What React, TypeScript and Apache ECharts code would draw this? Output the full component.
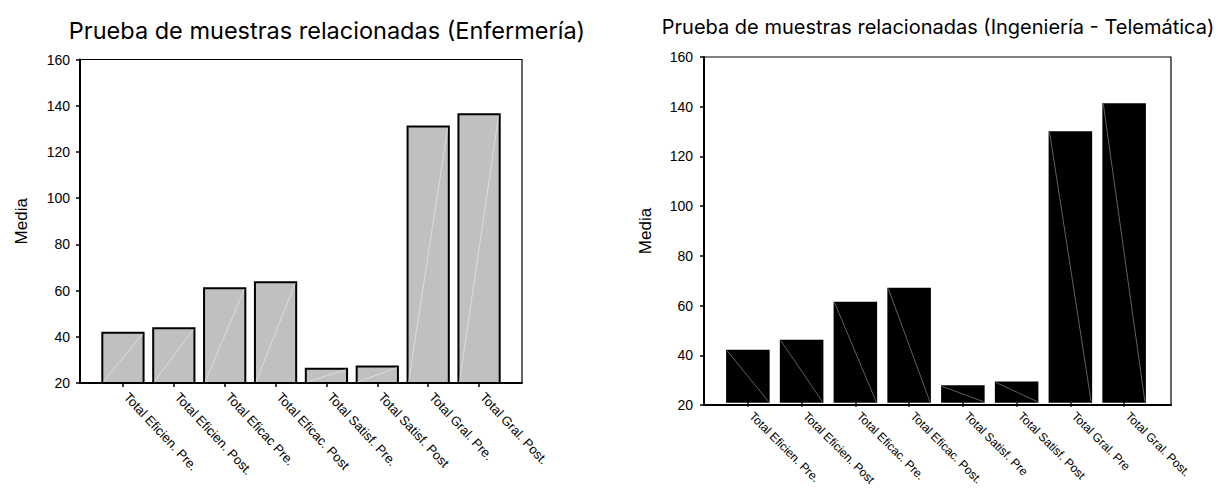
import React, { useEffect, useRef } from "react";
import * as echarts from "echarts";

const leftTitle = "Prueba de muestras relacionadas (Enfermería)";
const rightTitle = "Prueba de muestras relacionadas (Ingeniería - Telemática)";
const yName = "Media";

const leftCategories = [
  "Total Eficien. Pre.",
  "Total Eficien. Post.",
  "Total Eficac Pre.",
  "Total Eficac. Post",
  "Total Satisf. Pre.",
  "Total Satisf. Post",
  "Total Gral. Pre.",
  "Total Gral. Post.",
];
const leftValues = [42.2, 44.1, 61.4, 64.0, 26.6, 27.6, 131.4, 136.7];

const rightCategories = [
  "Total Eficien. Pre.",
  "Total Eficien. Post",
  "Total Eficac. Pre.",
  "Total Eficac. Post.",
  "Total Satisf. Pre",
  "Total Satisf. Post",
  "Total Gral. Pre",
  "Total Gral. Post.",
];
const rightValues = [41.4, 45.5, 60.9, 66.5, 27.0, 28.6, 129.9, 141.3];

const yTicks = { min: 20, max: 160, interval: 20 };

const FONT = "'Liberation Sans', Arial, sans-serif";
const TITLE_FONT = "Inter, 'Liberation Sans', Arial, sans-serif";

function diagRenderer(gap: number, color: string, upward: boolean) {
  return (params: any, api: any) => {
    const idx = api.value(0);
    const val = api.value(1);
    const top = api.coord([idx, val]);
    const base = api.coord([idx, yTicks.min]);
    const band = api.size([1, 0])[0];
    const w = band * (1 - gap);
    const x0 = top[0] - w / 2;
    const x1 = top[0] + w / 2;
    const shape = upward
      ? { x1: x0 + 2, y1: base[1] - 1, x2: x1 - 2, y2: top[1] + 2 }
      : { x1: x0 + 1, y1: top[1] + 1, x2: x1 - 1, y2: base[1] - 1 };
    return {
      type: "line",
      shape,
      style: { stroke: color, lineWidth: 0.8 },
      silent: true,
    };
  };
}

export default function App() {
  const ref = useRef<HTMLDivElement>(null);
  useEffect(() => {
    if (!ref.current) return;
    const chart = echarts.init(ref.current, null, { renderer: "svg" });
    const yAxisBase = (gridIndex: number, nameGap: number, margin: number) => ({
      type: "value",
      gridIndex,
      min: yTicks.min,
      max: yTicks.max,
      interval: yTicks.interval,
      name: yName,
      nameLocation: "middle",
      nameGap,
      nameTextStyle: { fontFamily: FONT, fontSize: 17, color: "#000" },
      axisLine: { show: true, lineStyle: { color: "#000", width: 2 } },
      axisTick: { show: true, length: 4, lineStyle: { color: "#000", width: 1.5 } },
      axisLabel: { fontFamily: FONT, fontSize: 14, color: "#000", margin },
      splitLine: { show: false },
    });
    const frameX = (gridIndex: number) => ({
      type: "value",
      gridIndex,
      min: 0,
      max: 1,
      axisLine: { show: true, lineStyle: { color: "#000", width: 2 } },
      axisTick: { show: false },
      axisLabel: { show: false },
      splitLine: { show: false },
    });
    const catX = (gridIndex: number, data: string[], rotate: number, fontSize: number) => ({
      type: "category",
      gridIndex,
      data,
      axisLine: { show: false },
      axisTick: { show: true, alignWithLabel: true, length: 4, lineStyle: { color: "#000", width: 1.5 } },
      axisLabel: {
        rotate,
        fontFamily: FONT,
        fontSize,
        color: "#000",
        margin: 8,
        interval: 0,
        padding: [0, 0, 0, 5],
      },
      splitLine: { show: false },
    });
    const hiddenY = (gridIndex: number) => ({
      type: "value",
      gridIndex,
      min: yTicks.min,
      max: yTicks.max,
      interval: yTicks.interval,
      show: false,
      splitLine: { show: false },
    });

    chart.setOption({
      animation: false,
      backgroundColor: "#fff",
      title: [
        {
          text: leftTitle,
          left: 322,
          top: 13,
          textAlign: "center",
          textStyle: { fontFamily: TITLE_FONT, fontSize: 23.5, fontWeight: "normal", color: "#000" },
        },
        {
          text: rightTitle,
          left: 933,
          top: 12,
          textAlign: "center",
          textStyle: { fontFamily: TITLE_FONT, fontSize: 20, fontWeight: "normal", color: "#000" },
        },
      ],
      grid: [
        { left: 80, top: 59.5, width: 442, height: 323.5, show: true, borderColor: "#000", borderWidth: 1.2, backgroundColor: "transparent" },
        { left: 97.5, top: 59.5, width: 407, height: 323.5 },
        { left: 704, top: 57, width: 467, height: 348, show: true, borderColor: "#000", borderWidth: 1.2, backgroundColor: "transparent" },
        { left: 721, top: 57, width: 430, height: 348 },
      ],
      xAxis: [
        frameX(0),
        catX(1, leftCategories, -47, 13),
        frameX(2),
        catX(3, rightCategories, -45, 12),
      ],
      yAxis: [yAxisBase(0, 50, 10), hiddenY(1), yAxisBase(2, 50, 11), hiddenY(3)],
      series: [
        {
          type: "bar",
          xAxisIndex: 1,
          yAxisIndex: 1,
          data: leftValues,
          barCategoryGap: "15%",
          itemStyle: { color: "#c0c0c0", borderColor: "#000", borderWidth: 2 },
          z: 3,
        },
        {
          type: "custom",
          xAxisIndex: 1,
          yAxisIndex: 1,
          data: leftValues.map((v, i) => [i, v]),
          renderItem: diagRenderer(0.15, "rgba(255,255,255,0.55)", true),
          z: 4,
          silent: true,
        },
        {
          type: "bar",
          xAxisIndex: 3,
          yAxisIndex: 3,
          data: rightValues,
          barCategoryGap: "19%",
          itemStyle: { color: "#000" },
          z: 3,
        },
        {
          type: "custom",
          xAxisIndex: 3,
          yAxisIndex: 3,
          data: rightValues.map((v, i) => [i, v]),
          renderItem: diagRenderer(0.19, "rgba(150,150,150,0.8)", false),
          z: 4,
          silent: true,
        },
      ],
    });
    return () => chart.dispose();
  }, []);
  return (
    <div
      ref={ref}
      style={{ position: "fixed", left: 0, top: 0, width: 1218, height: 488, background: "#fff" }}
    />
  );
}
